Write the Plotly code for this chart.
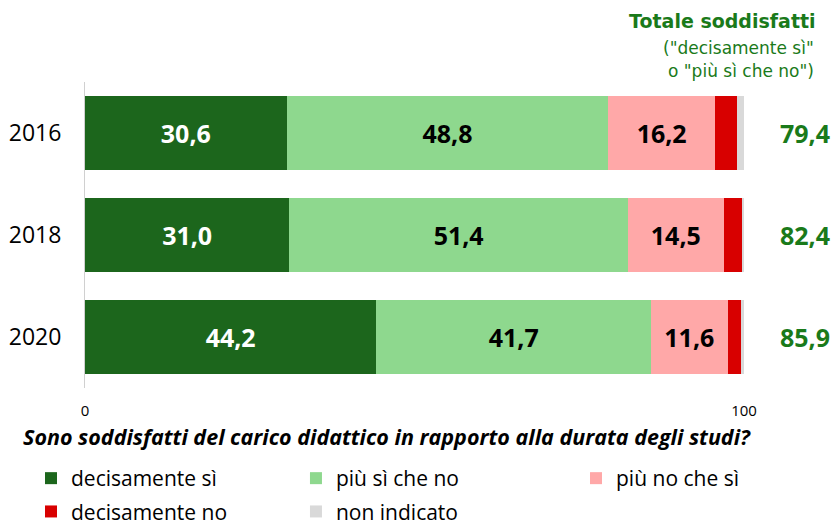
import plotly.graph_objects as go

years = ["2016", "2018", "2020"]
decisamente_si = [30.6, 31.0, 44.2]
piu_si = [48.8, 51.4, 41.7]
piu_no = [16.2, 14.5, 11.6]
decisamente_no = [3.4, 2.8, 2.1]
non_indicato = [1.0, 0.3, 0.4]
totale = [round(a + b, 1) for a, b in zip(decisamente_si, piu_si)]

series = [
    ("decisamente sì", decisamente_si, "#1c661c", "white", True, "legend"),
    ("più sì che no", piu_si, "#8ed88e", "black", True, "legend2"),
    ("più no che sì", piu_no, "#ffa8a8", "black", True, "legend3"),
    ("decisamente no", decisamente_no, "#d80000", "black", False, "legend"),
    ("non indicato", non_indicato, "#d9d9d9", "black", False, "legend2"),
]

GREEN_TXT = "#1a7a1a"

fig = go.Figure()
for name, vals, color, tcolor, show_text, leg in series:
    fig.add_trace(go.Bar(
        y=years, x=vals, name=name, orientation="h",
        marker=dict(color=color, line=dict(width=0)),
        width=0.72,
        legend=leg, legendgroup=name,
        text=vals if show_text else None,
        texttemplate="%{x:.1f}" if show_text else None,
        textposition="inside" if show_text else "none",
        insidetextanchor="middle",
        textfont=dict(family="Open Sans", size=25, color=tcolor, weight="bold"),
        hoverinfo="skip",
    ))

for i, t in enumerate(totale):
    fig.add_annotation(x=1.0926, y=i, xref="paper", yref="y", text=f"{t:.1f}".replace(".", ","),
                       showarrow=False, font=dict(family="Open Sans", size=25, color=GREEN_TXT, weight="bold"),
                       xanchor="center", yanchor="middle")

fig.add_annotation(x=1.112, y=1.199, xref="paper", yref="paper", text="Totale soddisfatti",
                   showarrow=False, xanchor="right", yanchor="middle",
                   font=dict(family="DejaVu Sans", size=19, color=GREEN_TXT, weight="bold"))
fig.add_annotation(x=1.110, y=1.111, xref="paper", yref="paper", text='("decisamente sì"',
                   showarrow=False, xanchor="right", yanchor="middle",
                   font=dict(family="DejaVu Sans", size=17, color=GREEN_TXT))
fig.add_annotation(x=1.110, y=1.036, xref="paper", yref="paper", text='o "più sì che no")',
                   showarrow=False, xanchor="right", yanchor="middle",
                   font=dict(family="DejaVu Sans", size=17, color=GREEN_TXT))

fig.add_annotation(x=0.458, y=-0.160, xref="paper", yref="paper",
                   text="<b><i>Sono soddisfatti del carico didattico in rapporto alla durata degli studi?</i></b>",
                   showarrow=False, xanchor="center", yanchor="middle",
                   font=dict(family="Open Sans", size=21.5, color="black"))

leg_common = dict(orientation="v", xref="container", yref="container", yanchor="top", xanchor="left",
                  y=0.1226, traceorder="grouped", tracegroupgap=3,
                  font=dict(family="Open Sans", size=21, color="black"),
                  itemclick=False, itemdoubleclick=False, bgcolor="rgba(0,0,0,0)")

fig.update_layout(
    width=833, height=522,
    barmode="stack",
    separators=",.",
    plot_bgcolor="white", paper_bgcolor="white",
    margin=dict(l=85, r=89, t=82, b=134, autoexpand=False),
    showlegend=True,
    legend=dict(x=0.0372, **leg_common),
    legend2=dict(x=0.3553, **leg_common),
    legend3=dict(x=0.6915, **leg_common),
    xaxis=dict(range=[0, 100], tickvals=[0, 100], ticktext=["0", "100"], showgrid=False,
               zeroline=False, showline=False, ticks="", ticklabelstandoff=12,
               tickfont=dict(family="Open Sans", size=15, color="black")),
    yaxis=dict(type="category", autorange="reversed", showgrid=False, zeroline=False, showline=True,
               linecolor="#d0d0d0", linewidth=1, ticks="", ticklabelstandoff=18,
               tickfont=dict(family="Open Sans", size=23, color="black")),
)

fig.write_html("out.html", config={"displayModeBar": False},
               post_script="document.body.style.margin='0';")
